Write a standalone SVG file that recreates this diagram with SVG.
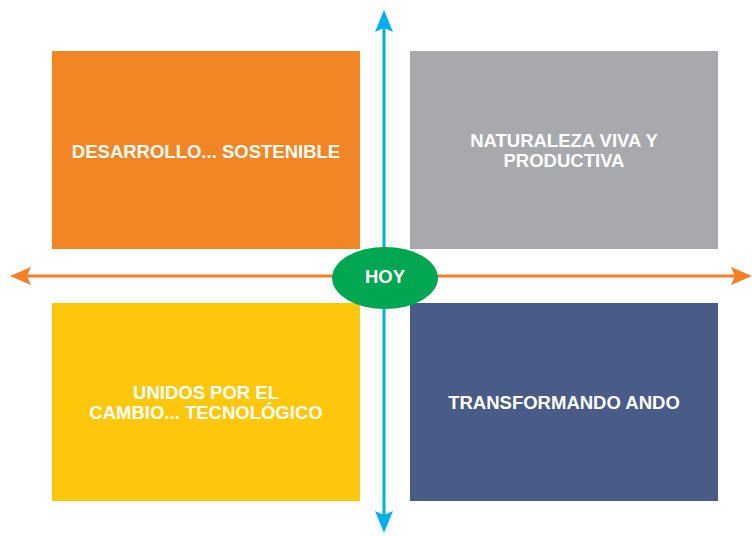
<svg xmlns="http://www.w3.org/2000/svg" width="752" height="536" viewBox="0 0 752 536">
<style>
.t{font-family:"Liberation Sans",Arial,sans-serif;font-weight:bold;font-size:18.5px;fill:#fff;text-anchor:middle}
</style>
<rect width="752" height="536" fill="#fff"/>
<g id="desarrollo"><rect x="52" y="51" width="308" height="198" fill="#F28524"/><text class="t" x="206" y="158">DESARROLLO... SOSTENIBLE</text></g>
<g id="naturaleza"><rect x="410" y="51" width="308" height="198" fill="#A7A9AC"/><text class="t" x="564" y="147">NATURALEZA VIVA Y</text><text class="t" x="564" y="167">PRODUCTIVA</text></g>
<g id="unidos"><rect x="52" y="303" width="308" height="198" fill="#FDC70C"/><text class="t" x="206" y="399">UNIDOS POR EL</text><text class="t" x="206" y="419">CAMBIO... TECNOLÓGICO</text></g>
<g id="transformando"><rect x="410" y="303" width="308" height="198" fill="#485C87"/><text class="t" x="564" y="409">TRANSFORMANDO ANDO</text></g>
<g id="connectors">
<line x1="24" y1="276" x2="740" y2="276" stroke="#F47F24" stroke-width="3"/>
<polygon points="10,276 31,267 27,276 31,285" fill="#F47F24"/>
<polygon points="752,276 731,267 735,276 731,285" fill="#F47F24"/>
<line x1="384" y1="24" x2="384" y2="520" stroke="#00AEEF" stroke-width="3"/>
<polygon points="384,10 375,32 384,28 393,32" fill="#00AEEF"/>
<polygon points="384,533 375,511 384,515 393,511" fill="#00AEEF"/>
</g>
<g id="hoy"><ellipse cx="385" cy="278" rx="53" ry="31" fill="#00A651"/><text class="t" x="385" y="283">HOY</text></g>
</svg>
